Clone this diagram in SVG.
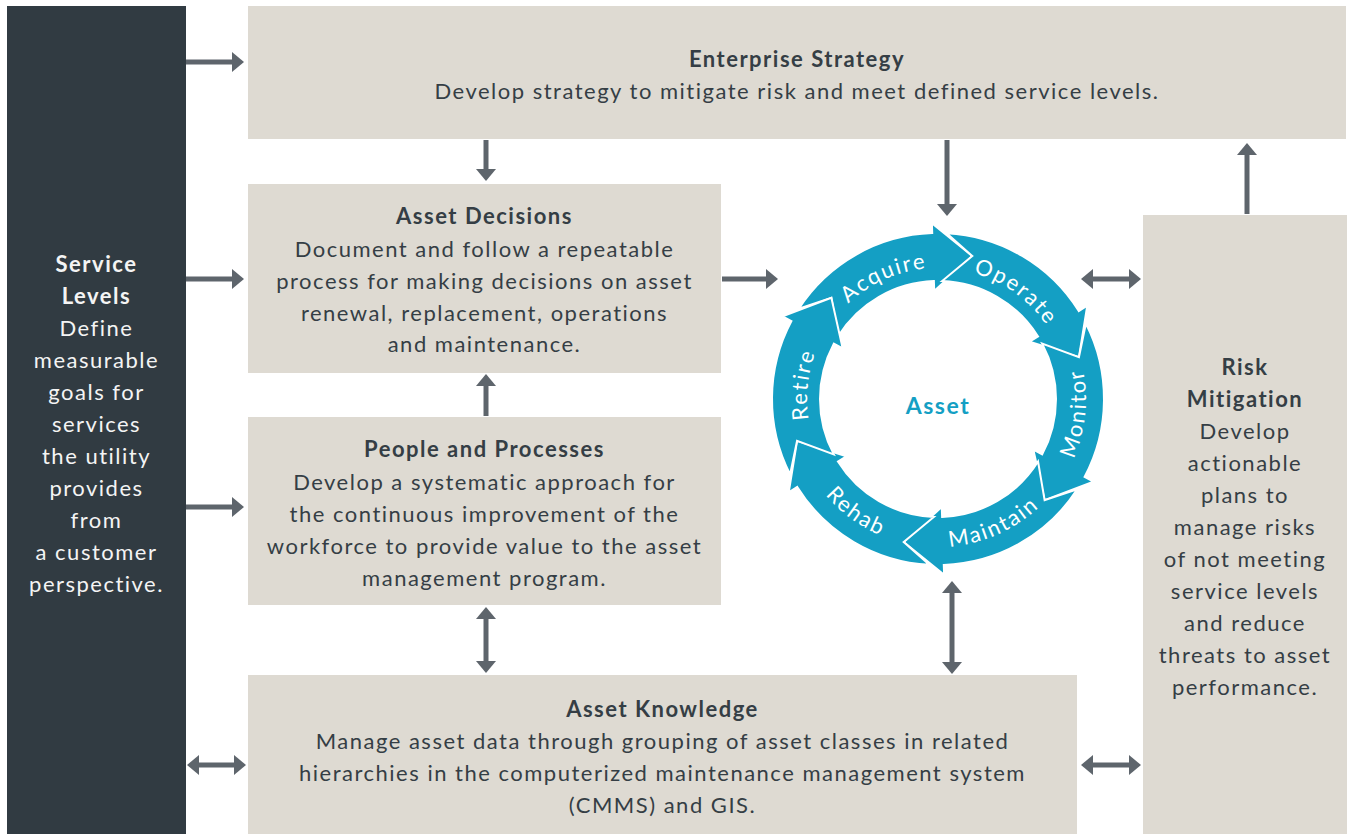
<svg xmlns="http://www.w3.org/2000/svg" xmlns:xlink="http://www.w3.org/1999/xlink" width="1350" height="834" viewBox="0 0 1350 834">
<style>
.box{fill:#dedad2}
.dark{fill:#313b42}
.t{font-family:Lato,"Open Sans",sans-serif;font-size:22px;letter-spacing:1.5px;fill:#353e45;text-anchor:middle}
.b{font-weight:700}
.w{fill:#f4f4f4}
.seg{fill:#149fc4;stroke:#fff;stroke-width:2;stroke-linejoin:miter}
.rt{font-family:Lato,"Open Sans",sans-serif;font-size:22px;letter-spacing:2px;fill:#fff}
.ctr{font-family:Lato,"Open Sans",sans-serif;font-size:23px;letter-spacing:1.5px;font-weight:700;fill:#149fc4;text-anchor:middle}
.c line{stroke:#5e656c;stroke-width:5;fill:none}
.one{marker-end:url(#ah)}
.two{marker-start:url(#ah);marker-end:url(#ah)}
</style>
<defs>
<marker id="ah" markerUnits="userSpaceOnUse" markerWidth="12" markerHeight="20" refX="4" refY="10" orient="auto-start-reverse" overflow="visible">
<path d="M0,0 L12,10 L0,20 Z" fill="#5e656c"/>
</marker>
<path id="pAcq" d="M820.26,341.57 A131,131 0 0 1 974.10,273.07"/>
<path id="pOpe" d="M928.86,268.31 A131,131 0 0 1 1065.11,367.31"/>
<path id="pRet" d="M829.40,472.26 A131,131 0 0 1 846.99,304.77"/>
<path id="pMon" d="M1040.82,505.46 A148,148 0 0 0 1060.69,316.24"/>
<path id="pMai" d="M897.21,541.27 A148,148 0 0 0 1071.02,463.88"/>
<path id="pReh" d="M794.40,434.80 A148,148 0 0 0 948.33,546.64"/>
</defs>
<rect width="1350" height="834" fill="#fff"/>

<g id="service-levels">
<rect class="dark" x="7" y="6" width="179" height="828"/>
<text class="t w b" x="96.5" y="272">Service</text>
<text class="t w b" x="96.5" y="304">Levels</text>
<text class="t w" x="96.5" y="336">Define</text>
<text class="t w" x="96.5" y="368">measurable</text>
<text class="t w" x="96.5" y="400">goals for</text>
<text class="t w" x="96.5" y="432">services</text>
<text class="t w" x="96.5" y="464">the utility</text>
<text class="t w" x="96.5" y="496">provides</text>
<text class="t w" x="96.5" y="528">from</text>
<text class="t w" x="96.5" y="560">a customer</text>
<text class="t w" x="96.5" y="592">perspective.</text>
</g>

<g id="enterprise-strategy">
<rect class="box" x="248" y="6" width="1098" height="133"/>
<text class="t b" x="797" y="67">Enterprise Strategy</text>
<text class="t" x="797" y="98.5">Develop strategy to mitigate risk and meet defined service levels.</text>
</g>

<g id="asset-decisions">
<rect class="box" x="248" y="184" width="473" height="189"/>
<text class="t b" x="484.5" y="224">Asset Decisions</text>
<text class="t" x="484.5" y="256.5">Document and follow a repeatable</text>
<text class="t" x="484.5" y="288.5">process for making decisions on asset</text>
<text class="t" x="484.5" y="320.5">renewal, replacement, operations</text>
<text class="t" x="484.5" y="352">and maintenance.</text>
</g>

<g id="people-processes">
<rect class="box" x="248" y="417" width="473" height="188"/>
<text class="t b" x="484.5" y="457">People and Processes</text>
<text class="t" x="484.5" y="489.5">Develop a systematic approach for</text>
<text class="t" x="484.5" y="521.5">the continuous improvement of the</text>
<text class="t" x="484.5" y="553.5">workforce to provide value to the asset</text>
<text class="t" x="484.5" y="585.5">management program.</text>
</g>

<g id="asset-knowledge">
<rect class="box" x="248" y="675" width="829" height="159"/>
<text class="t b" x="662.5" y="717">Asset Knowledge</text>
<text class="t" x="662.5" y="749">Manage asset data through grouping of asset classes in related</text>
<text class="t" x="662.5" y="781">hierarchies in the computerized maintenance management system</text>
<text class="t" x="662.5" y="813">(CMMS) and GIS.</text>
</g>

<g id="risk-mitigation">
<rect class="box" x="1143" y="215" width="204" height="619"/>
<text class="t b" x="1245" y="375">Risk</text>
<text class="t b" x="1245" y="407">Mitigation</text>
<text class="t" x="1245" y="439">Develop</text>
<text class="t" x="1245" y="471">actionable</text>
<text class="t" x="1245" y="503">plans to</text>
<text class="t" x="1245" y="535">manage risks</text>
<text class="t" x="1245" y="567">of not meeting</text>
<text class="t" x="1245" y="599">service levels</text>
<text class="t" x="1245" y="631">and reduce</text>
<text class="t" x="1245" y="663">threats to asset</text>
<text class="t" x="1245" y="695">performance.</text>
</g>

<g id="asset-cycle">
<path class="seg" d="M798.78,308.60 A166,166 0 0 1 932.21,233.10 L931.86,223.11 L972.31,256.06 L934.23,291.06 L933.88,281.07 A118,118 0 0 0 837.94,336.47 L831.37,297.81 Z"/>
<path class="seg" d="M946.68,233.23 A166,166 0 0 1 1078.77,311.04 L1087.25,305.74 L1078.94,357.25 L1029.58,341.77 L1038.06,336.47 A118,118 0 0 0 942.12,281.07 L972.31,256.06 Z"/>
<path class="seg" d="M1085.91,323.64 A166,166 0 0 1 1084.56,476.94 L1093.39,481.63 L1044.63,500.19 L1033.35,449.71 L1042.18,454.40 A118,118 0 0 0 1042.18,343.60 L1078.94,357.25 Z"/>
<path class="seg" d="M1077.22,489.40 A166,166 0 0 1 943.79,564.90 L944.14,574.89 L903.69,541.94 L941.77,506.94 L942.12,516.93 A118,118 0 0 0 1038.06,461.53 L1044.63,500.19 Z"/>
<path class="seg" d="M929.32,564.77 A166,166 0 0 1 797.23,486.96 L788.75,492.26 L797.06,440.75 L846.42,456.23 L837.94,461.53 A118,118 0 0 0 933.88,516.93 L903.69,541.94 Z"/>
<path class="seg" d="M790.09,474.36 A166,166 0 0 1 791.44,321.06 L782.61,316.37 L831.37,297.81 L842.65,348.29 L833.82,343.60 A118,118 0 0 0 833.82,454.40 L797.06,440.75 Z"/>
<text class="rt"><textPath href="#pAcq" startOffset="50%" text-anchor="middle">Acquire</textPath></text>
<text class="rt"><textPath href="#pOpe" startOffset="50%" text-anchor="middle">Operate</textPath></text>
<text class="rt"><textPath href="#pMon" startOffset="50%" text-anchor="middle">Monitor</textPath></text>
<text class="rt"><textPath href="#pMai" startOffset="50%" text-anchor="middle">Maintain</textPath></text>
<text class="rt"><textPath href="#pReh" startOffset="50%" text-anchor="middle">Rehab</textPath></text>
<text class="rt"><textPath href="#pRet" startOffset="50%" text-anchor="middle">Retire</textPath></text>
<text class="ctr" x="938" y="414">Asset</text>
</g>

<g id="connectors" class="c">
<line class="one" x1="186" y1="62" x2="236" y2="62"/>
<line class="one" x1="186" y1="279" x2="236" y2="279"/>
<line class="one" x1="186" y1="507" x2="236" y2="507"/>
<line class="two" x1="195" y1="765" x2="238" y2="765"/>
<line class="one" x1="486" y1="140" x2="486" y2="173"/>
<line class="one" x1="947" y1="140" x2="947" y2="208"/>
<line class="one" x1="722" y1="279" x2="770" y2="279"/>
<line class="one" x1="486" y1="416" x2="486" y2="382"/>
<line class="two" x1="486" y1="615" x2="486" y2="665"/>
<line class="two" x1="952" y1="589" x2="952" y2="666"/>
<line class="two" x1="1089" y1="279" x2="1133" y2="279"/>
<line class="two" x1="1089" y1="765" x2="1133" y2="765"/>
<line class="one" x1="1247" y1="214" x2="1247" y2="151"/>
</g>
</svg>
